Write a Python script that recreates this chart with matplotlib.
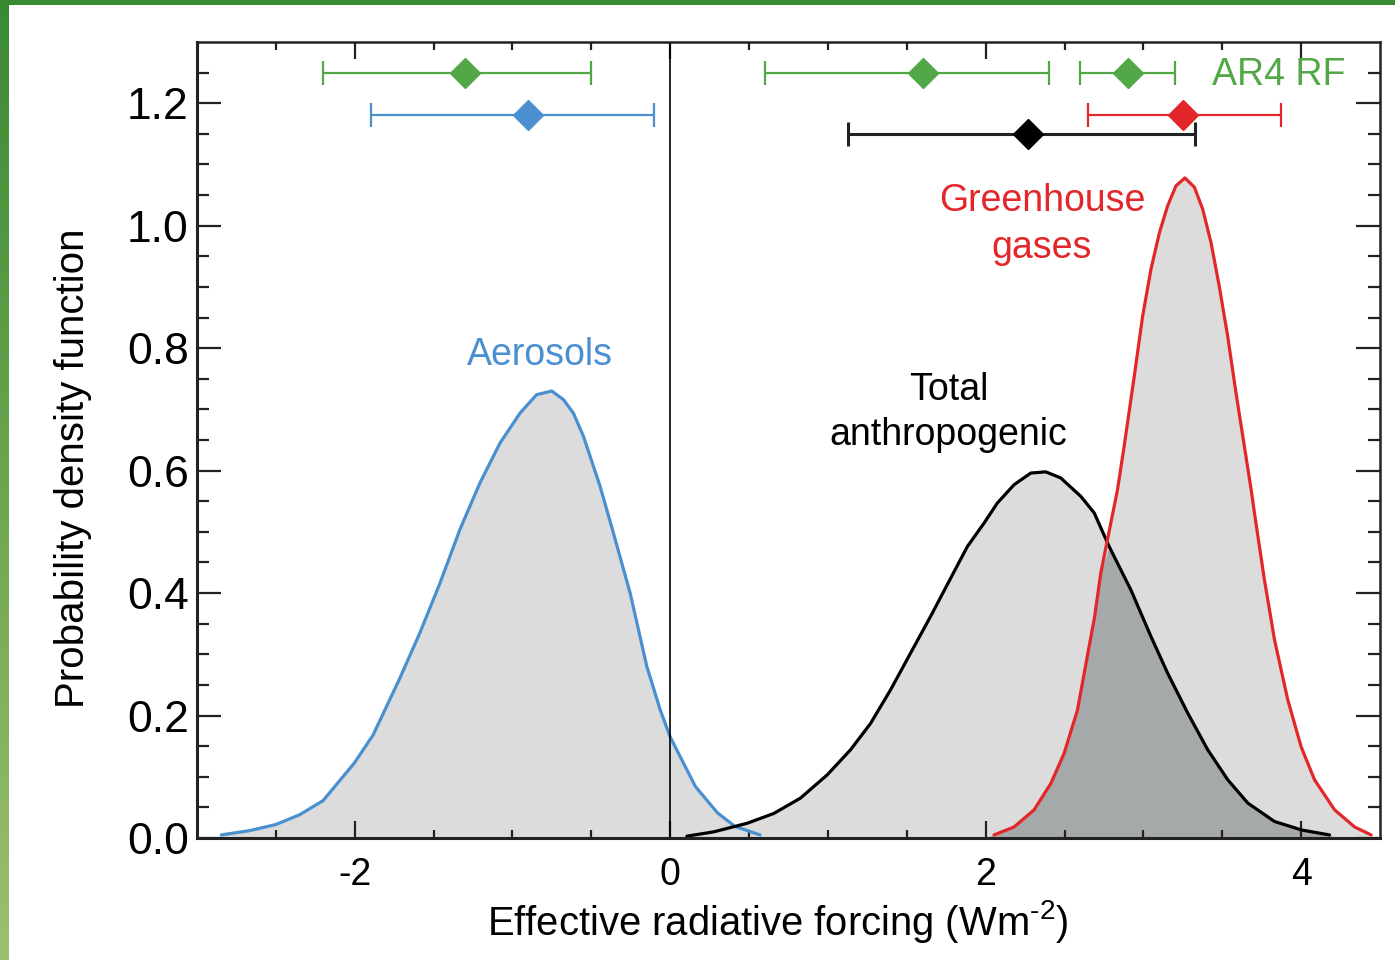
import numpy as np
import matplotlib.pyplot as plt
from matplotlib.colors import LinearSegmentedColormap

plt.rcParams["font.family"] = ["Liberation Sans", "DejaVu Sans"]
plt.rcParams["mathtext.fontset"] = "custom"
plt.rcParams["mathtext.rm"] = "Liberation Sans"
plt.rcParams["mathtext.it"] = "Liberation Sans:italic"
plt.rcParams["mathtext.default"] = "regular"

BLUE = "#4a8fd0"
GREEN = "#52a847"
RED = "#e3262a"
BLACK = "#000000"
LIGHT = "#dcdcdc"
DARK = "#a6a9aa"

# PDF curves
aer_x = [-2.846, -2.667, -2.5, -2.349, -2.201, -2.004, -1.884, -1.714, -1.587, -1.46,
         -1.333, -1.206, -1.079, -0.952, -0.847, -0.751, -0.677, -0.614, -0.55, -0.444,
         -0.36, -0.254, -0.148, -0.063, 0.0, 0.16, 0.3, 0.41, 0.57]
aer_y = [0.005, 0.012, 0.022, 0.038, 0.061, 0.122, 0.168, 0.261, 0.335, 0.416,
         0.504, 0.58, 0.645, 0.694, 0.724, 0.730, 0.716, 0.694, 0.656, 0.574,
         0.498, 0.4, 0.28, 0.209, 0.165, 0.084, 0.041, 0.019, 0.005]

tot_x = [0.106, 0.275, 0.487, 0.656, 0.825, 0.995, 1.143, 1.27, 1.397, 1.524, 1.651,
         1.757, 1.884, 1.989, 2.074, 2.18, 2.286, 2.381, 2.476, 2.603, 2.688, 2.783,
         2.921, 3.048, 3.154, 3.281, 3.408, 3.535, 3.662, 3.831, 4.004, 4.18]
tot_y = [0.003, 0.010, 0.024, 0.040, 0.065, 0.103, 0.144, 0.187, 0.242, 0.302, 0.362,
         0.414, 0.476, 0.514, 0.547, 0.577, 0.596, 0.598, 0.588, 0.558, 0.531, 0.476,
         0.405, 0.329, 0.269, 0.204, 0.144, 0.095, 0.057, 0.027, 0.013, 0.005]

ghg_x = [2.053, 2.18, 2.307, 2.413, 2.497, 2.582, 2.656, 2.69, 2.73, 2.836, 2.878,
         2.942, 2.995, 3.048, 3.101, 3.153, 3.206, 3.263, 3.323, 3.376, 3.429, 3.481,
         3.534, 3.587, 3.64, 3.683, 3.704, 3.767, 3.831, 3.915, 4.0, 4.085, 4.212,
         4.339, 4.444]
ghg_y = [0.005, 0.018, 0.046, 0.089, 0.138, 0.209, 0.313, 0.36, 0.433, 0.569, 0.640,
         0.754, 0.852, 0.929, 0.988, 1.032, 1.065, 1.078, 1.063, 1.027, 0.972, 0.901,
         0.82, 0.727, 0.640, 0.569, 0.531, 0.422, 0.324, 0.226, 0.149, 0.095, 0.046,
         0.018, 0.005]

# best estimates with ranges shown above the curves
bar_mid = [-1.3, 1.6, 2.9, -0.9, 3.25, 2.27]
bar_lo = [-2.2, 0.6, 2.6, -1.9, 2.65, 1.13]
bar_hi = [-0.5, 2.4, 3.2, -0.1, 3.87, 3.33]
bar_row = [1.25, 1.25, 1.25, 1.18, 1.18, 1.15]
bar_col = [GREEN, GREEN, GREEN, BLUE, RED, "#222222"]
bar_mk = [GREEN, GREEN, GREEN, BLUE, RED, BLACK]

fig = plt.figure(figsize=(13.95, 9.6), dpi=100)

# green frame on top and left edge
edge = fig.add_axes([0, 0, 9 / 1395, 1])
cmap = LinearSegmentedColormap.from_list("g", ["#3a8a31", "#9dbf72"])
edge.imshow(np.linspace(0, 1, 256).reshape(-1, 1), aspect="auto", cmap=cmap)
edge.axis("off")
top = fig.add_axes([0, 1 - 5 / 960, 1, 5 / 960])
top.set_facecolor("#3a8a31")
top.set_xticks([])
top.set_yticks([])
for s in top.spines.values():
    s.set_visible(False)

ax = fig.add_axes([197 / 1395, 1 - 838 / 960, 1183 / 1395, 796 / 960])

ax.fill_between(aer_x, aer_y, color=LIGHT, lw=0)
ax.fill_between(tot_x, tot_y, color=LIGHT, lw=0)
ax.fill_between(ghg_x, ghg_y, color=LIGHT, lw=0)

# overlap of total and greenhouse gases
xs = np.array(sorted(set(tot_x + ghg_x)))
t_on = np.interp(xs, tot_x, tot_y, left=0, right=0)
g_on = np.interp(xs, ghg_x, ghg_y, left=0, right=0)
ax.fill_between(xs, np.minimum(t_on, g_on), color=DARK, lw=0)

for cx, cy, c in [(aer_x, aer_y, BLUE), (tot_x, tot_y, BLACK), (ghg_x, ghg_y, RED)]:
    ax.plot(cx, cy, color=c, lw=2.3, solid_joinstyle="round", solid_capstyle="round")

ax.axvline(0, color=BLACK, lw=1.2)

for m, lo, hi, r, c, mk in zip(bar_mid, bar_lo, bar_hi, bar_row, bar_col, bar_mk):
    w = 2.2 if mk == BLACK else 1.6
    ax.errorbar([m], [r], xerr=[[m - lo], [hi - m]], fmt="D", color=c, mfc=mk, mec=mk,
                ms=15, capsize=8.5, elinewidth=w, capthick=w)

ax.text(-0.825, 0.789, "Aerosols", color=BLUE, fontsize=27, ha="center", va="center")
ax.text(1.765, 0.695, "Total\nanthropogenic", color=BLACK, fontsize=27,
        ha="center", va="center", linespacing=1.3)
ax.text(2.356, 1.002, "Greenhouse\ngases", color=RED, fontsize=27,
        ha="center", va="center", linespacing=1.42)
ax.text(3.86, 1.246, "AR4 RF", color=GREEN, fontsize=27, ha="center", va="center")

ax.set_xlim(-3, 4.5)
ax.set_ylim(0, 1.3)
ax.set_xticks([-2, 0, 2, 4])
ax.set_xticklabels(["-2", "0", "2", "4"])
ax.set_xticks(np.arange(-2.5, 4.5, 0.5), minor=True)
ax.set_yticks([0.0, 0.2, 0.4, 0.6, 0.8, 1.0, 1.2])
ax.set_yticklabels(["0.0", "0.2", "0.4", "0.6", "0.8", "1.0", "1.2"])
ax.set_yticks(np.arange(0, 1.3, 0.05), minor=True)

ax.tick_params(axis="both", which="both", direction="in", top=True, right=True,
               width=1.6, color="#222222")
ax.tick_params(axis="x", which="major", length=12, pad=14, labelsize=27)
ax.tick_params(axis="x", which="minor", length=6)
ax.tick_params(axis="y", which="major", length=17, pad=6, labelsize=32)
ax.tick_params(axis="y", which="minor", length=8.5)
for side, s in ax.spines.items():
    s.set_color("#222222")
    s.set_linewidth(2.2 if side in ("left", "bottom") else 1.8)

ax.set_xlabel("Effective radiative forcing (Wm$^{\u2010 2}$)", fontsize=28.8)
ax.xaxis.set_label_coords(0.491, -0.1055)
ax.xaxis.label.set_va("center")
ax.set_ylabel("Probability density function", fontsize=29)
ax.yaxis.set_label_coords(-0.105, 0.464)
ax.yaxis.label.set_va("center")

fig.savefig("out.png", dpi=100)
